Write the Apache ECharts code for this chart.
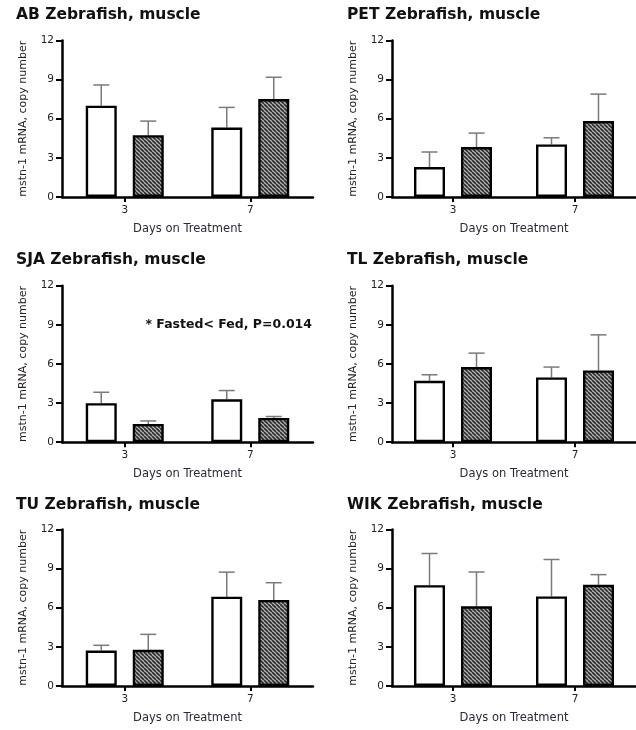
<!DOCTYPE html>
<html><head><meta charset="utf-8">
<script src="https://cdn.jsdelivr.net/npm/echarts@6/dist/echarts.min.js"></script>
<style>html,body{margin:0;padding:0;background:#fff}#c{width:636px;height:730px}</style>
</head><body><div id="c"></div>
<script>
// ---- data ----
const categories = ['3', '7'];
const yTicks = [0, 3, 6, 9, 12];
const strains = ['AB', 'PET', 'SJA', 'TL', 'TU', 'WIK'];
const titleSuffix = ' Zebrafish, muscle';
const annotation = '* Fasted< Fed, P=0.014';

const abFed = [7.00, 5.33],  abFedSem = [1.59, 1.54],  abFasted = [4.74, 7.51],  abFastedSem = [1.08, 1.67];
const petFed = [2.30, 4.03], petFedSem = [1.15, 0.51], petFasted = [3.83, 5.82], petFastedSem = [1.07, 2.07];
const sjaFed = [2.99, 3.29], sjaFedSem = [0.84, 0.67], sjaFasted = [1.40, 1.86], sjaFastedSem = [0.23, 0.11];
const tlFed = [4.71, 4.97],  tlFedSem = [0.46, 0.79],  tlFasted = [5.76, 5.50],  tlFastedSem = [1.07, 2.73];
const tuFed = [2.72, 6.85],  tuFedSem = [0.40, 1.88],  tuFasted = [2.77, 6.60],  tuFastedSem = [1.19, 1.32];
const wikFed = [7.73, 6.87], wikFedSem = [2.43, 2.83], wikFasted = [6.11, 7.76], wikFastedSem = [2.63, 0.78];

const fedList = [abFed, petFed, sjaFed, tlFed, tuFed, wikFed];
const fedSemList = [abFedSem, petFedSem, sjaFedSem, tlFedSem, tuFedSem, wikFedSem];
const fastList = [abFasted, petFasted, sjaFasted, tlFasted, tuFasted, wikFasted];
const fastSemList = [abFastedSem, petFastedSem, sjaFastedSem, tlFastedSem, tuFastedSem, wikFastedSem];

// ---- layout / style ----
const colLeft = [62, 392];
const rowTop = [40.5, 285.7, 529.5];
const gridW = 251, gridH = 156.5;
const titleLeft = [16, 347];
const titleMid = [15, 260, 505];
const BAR_W = 31, GAP = 16;
const OFFSET = (BAR_W + GAP) / 2;
const CAP = 8;
const FONT = 'DejaVu Sans';

// hatch pattern
const pat = document.createElement('canvas');
pat.width = 4; pat.height = 4;
const pc = pat.getContext('2d');
pc.fillStyle = '#b4b4b4'; pc.fillRect(0, 0, 4, 4);
pc.strokeStyle = '#2e2e2e'; pc.lineWidth = 1.6;
for (let k = -1; k <= 1; k++) { pc.beginPath(); pc.moveTo(k * 4, 0); pc.lineTo(k * 4 + 4, 4); pc.stroke(); }

function errRender(side) {
  return function (params, api) {
    const cat = api.value(0), m = api.value(1), e = api.value(2);
    const base = api.coord([cat, m]);
    const top = api.coord([cat, m + e]);
    const x = base[0] + side * OFFSET;
    const st = { stroke: '#7a7a7a', lineWidth: 1.5 };
    return { type: 'group', children: [
      { type: 'line', shape: { x1: x, y1: base[1], x2: x, y2: top[1] }, style: st },
      { type: 'line', shape: { x1: x - CAP, y1: top[1], x2: x + CAP, y2: top[1] }, style: st }
    ]};
  };
}

const grids = [], xAxes = [], yAxes = [], series = [], titles = [];
strains.forEach((s, i) => {
  const col = i % 2, row = Math.floor(i / 2);
  grids.push({ left: colLeft[col], top: rowTop[row], width: gridW, height: gridH });
  titles.push({ text: s + titleSuffix, left: titleLeft[col], top: titleMid[row] - 9, padding: 0,
    textStyle: { fontFamily: FONT, fontWeight: 'bold', fontSize: 15.5, color: '#111', lineHeight: 18 } });
  xAxes.push({ type: 'category', gridIndex: i, data: categories,
    name: 'Days on Treatment', nameLocation: 'middle', nameGap: 26,
    nameTextStyle: { fontFamily: FONT, fontSize: 11.5, color: '#2a2a3a' },
    axisLine: { show: true, lineStyle: { color: '#000', width: 2.5 } },
    axisTick: { show: true, alignWithLabel: true, length: 5, lineStyle: { color: '#000', width: 2 } },
    axisLabel: { fontFamily: FONT, fontSize: 10.5, color: '#222', margin: 8 },
    splitLine: { show: false } });
  yAxes.push({ type: 'value', gridIndex: i, min: yTicks[0], max: yTicks[yTicks.length - 1], interval: yTicks[1] - yTicks[0],
    name: 'mstn-1 mRNA, copy number', nameLocation: 'middle', nameRotate: 90, nameGap: 33,
    nameTextStyle: { fontFamily: FONT, fontSize: 11, color: '#2a2222' },
    axisLine: { show: true, lineStyle: { color: '#000', width: 2.5 } },
    axisTick: { show: true, length: 6, lineStyle: { color: '#000', width: 2 } },
    axisLabel: { fontFamily: FONT, fontSize: 10.5, color: '#222', margin: 8 },
    splitLine: { show: false } });
  series.push({ type: 'custom', xAxisIndex: i, yAxisIndex: i, z: 1, renderItem: errRender(-1),
    data: categories.map((c, j) => [j, fedList[i][j], fedSemList[i][j]]) });
  series.push({ type: 'custom', xAxisIndex: i, yAxisIndex: i, z: 1, renderItem: errRender(1),
    data: categories.map((c, j) => [j, fastList[i][j], fastSemList[i][j]]) });
  series.push({ type: 'bar', name: 'Fed', xAxisIndex: i, yAxisIndex: i, z: 3, barWidth: BAR_W, barGap: (GAP / BAR_W * 100) + '%',
    itemStyle: { color: '#fff', borderColor: '#000', borderWidth: 2.4 }, data: fedList[i] });
  series.push({ type: 'bar', name: 'Fasted', xAxisIndex: i, yAxisIndex: i, z: 3, barWidth: BAR_W, barGap: (GAP / BAR_W * 100) + '%',
    itemStyle: { color: { image: pat, repeat: 'repeat' }, borderColor: '#000', borderWidth: 2.4 }, data: fastList[i] });
});

const chart = echarts.init(document.getElementById('c'), null, { renderer: 'canvas' });
chart.setOption({
  animation: false,
  backgroundColor: '#fff',
  title: titles,
  grid: grids, xAxis: xAxes, yAxis: yAxes, series: series,
  graphic: [{ type: 'text', x: 312, y: 325,
    style: { text: annotation, textAlign: 'right', textVerticalAlign: 'middle',
      font: 'bold 12.5px "DejaVu Sans"', fill: '#111' } }]
});
</script></body></html>
